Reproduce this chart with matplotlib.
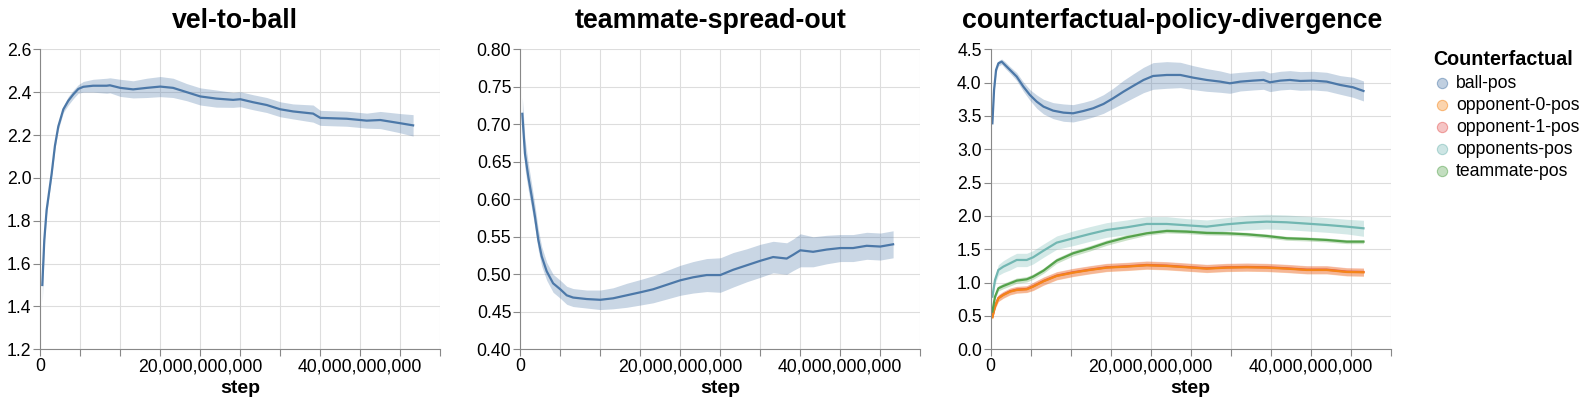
import numpy as np
import matplotlib
matplotlib.use("Agg")
import matplotlib.pyplot as plt
from matplotlib.ticker import FuncFormatter, MultipleLocator
from matplotlib.colors import to_rgba

plt.rcParams['font.family'] = ['Liberation Sans', 'DejaVu Sans']

# ---------------- data (steps in billions) ----------------
VEL_STEP = [0.25, 0.5, 0.79, 1.42, 1.83, 2.25, 2.88, 3.5, 4.13, 4.75, 5.375, 6.6, 8.3, 8.7,
            10.0, 11.6, 13.3, 15.0, 16.6, 18.3, 20.0, 22.0, 24.1, 25.0, 26.6, 28.3, 30.0,
            31.6, 34.1, 35.0, 36.6, 38.3, 40.0, 40.8, 42.5, 45.0, 46.6]
VEL_MEAN = [1.50, 1.71, 1.85, 2.02, 2.15, 2.24, 2.32, 2.36, 2.39, 2.415, 2.425, 2.43, 2.43, 2.432,
            2.42, 2.413, 2.42, 2.426, 2.42, 2.40, 2.38, 2.37, 2.364, 2.367, 2.353, 2.34, 2.32,
            2.31, 2.30, 2.28, 2.278, 2.276, 2.27, 2.267, 2.27, 2.255, 2.245]
VEL_HALF = [0.08, 0.03, 0.02, 0.015, 0.015, 0.015, 0.015, 0.02, 0.02, 0.02, 0.025, 0.03, 0.035, 0.035,
            0.04, 0.04, 0.045, 0.047, 0.045, 0.04, 0.04, 0.04, 0.035, 0.035, 0.035, 0.035, 0.035,
            0.035, 0.04, 0.035, 0.035, 0.035, 0.035, 0.035, 0.04, 0.045, 0.05]

SPREAD_STEP = [0.25, 0.58, 1.0, 1.42, 1.83, 2.25, 2.67, 3.3, 4.1, 5.0, 5.8, 6.6, 8.3, 10.0,
               11.6, 13.3, 15.0, 16.6, 18.3, 20.0, 21.6, 23.3, 25.0, 26.6, 28.3, 30.0, 31.6,
               33.3, 34.1, 35.0, 36.6, 38.3, 40.0, 41.6, 43.3, 45.0, 46.6]
SPREAD_MEAN = [0.714, 0.661, 0.630, 0.604, 0.577, 0.546, 0.524, 0.504, 0.488, 0.480, 0.472, 0.469,
               0.467, 0.466, 0.468, 0.472, 0.476, 0.480, 0.486, 0.492, 0.496, 0.499, 0.499, 0.506,
               0.512, 0.518, 0.523, 0.521, 0.526, 0.532, 0.530, 0.533, 0.535, 0.535, 0.538, 0.537, 0.540]
SPREAD_HALF = [0.022, 0.02, 0.018, 0.016, 0.015, 0.014, 0.013, 0.012, 0.012, 0.012, 0.012, 0.012,
               0.012, 0.013, 0.014, 0.016, 0.017, 0.018, 0.019, 0.02, 0.021, 0.022, 0.023, 0.023,
               0.022, 0.022, 0.021, 0.021, 0.021, 0.022, 0.02, 0.019, 0.018, 0.018, 0.018, 0.018, 0.018]

BALL_STEP = [0.21, 0.42, 0.67, 0.96, 1.375, 1.79, 2.42, 3.25, 4.08, 4.9, 5.75, 6.6, 7.8, 9.1,
             10.3, 11.6, 12.8, 14.1, 15.3, 16.6, 17.8, 19.1, 20.3, 22.0, 23.7, 25.3, 27.0, 28.7,
             29.9, 31.2, 32.8, 34.1, 34.9, 36.2, 37.4, 38.7, 40.3, 42.0, 43.7, 45.3, 46.6]
BALL_MEAN = [3.39, 3.89, 4.19, 4.29, 4.315, 4.265, 4.19, 4.09, 3.94, 3.815, 3.715, 3.64, 3.58, 3.55,
             3.54, 3.575, 3.615, 3.68, 3.765, 3.865, 3.95, 4.04, 4.10, 4.115, 4.115, 4.075, 4.04,
             4.015, 3.99, 4.015, 4.03, 4.04, 4.005, 4.03, 4.04, 4.025, 4.03, 4.015, 3.965, 3.93, 3.875]
BALL_HALF = [0.03, 0.03, 0.04, 0.04, 0.04, 0.05, 0.05, 0.06, 0.07, 0.08, 0.1, 0.11, 0.12, 0.13,
             0.13, 0.13, 0.13, 0.14, 0.15, 0.17, 0.18, 0.19, 0.2, 0.2, 0.19, 0.18, 0.17, 0.16,
             0.15, 0.14, 0.14, 0.14, 0.14, 0.14, 0.14, 0.14, 0.14, 0.14, 0.14, 0.15, 0.15]

LOW_STEP = [0.21, 0.54, 0.96, 1.58, 2.42, 3.25, 4.5, 5.3, 6.6, 8.25, 10.3, 12.4, 14.5, 17.0,
            19.5, 22.0, 24.5, 27.0, 29.5, 32.0, 34.5, 37.0, 39.5, 42.0, 44.5, 46.6]
OPP0_MEAN = [0.48, 0.64, 0.765, 0.815, 0.865, 0.89, 0.90, 0.94, 1.02, 1.10, 1.15, 1.19, 1.225, 1.24,
             1.26, 1.25, 1.23, 1.21, 1.225, 1.23, 1.225, 1.21, 1.19, 1.19, 1.16, 1.155]
OPP1_MEAN = [0.49, 0.65, 0.77, 0.82, 0.87, 0.895, 0.905, 0.945, 1.025, 1.105, 1.155, 1.195, 1.23, 1.245,
             1.265, 1.255, 1.235, 1.215, 1.23, 1.235, 1.23, 1.215, 1.195, 1.195, 1.165, 1.16]
OPPS_MEAN = [0.79, 1.04, 1.19, 1.24, 1.29, 1.34, 1.34, 1.38, 1.48, 1.60, 1.665, 1.73, 1.79, 1.83,
             1.88, 1.88, 1.86, 1.84, 1.875, 1.90, 1.915, 1.905, 1.885, 1.865, 1.84, 1.815]
TEAM_MEAN = [0.565, 0.79, 0.915, 0.95, 0.99, 1.03, 1.05, 1.09, 1.18, 1.33, 1.44, 1.515, 1.60, 1.68,
             1.74, 1.775, 1.765, 1.745, 1.74, 1.725, 1.70, 1.665, 1.655, 1.64, 1.615, 1.615]
OPP0_HALF = [0.03, 0.04, 0.05, 0.05, 0.05, 0.05, 0.05, 0.06, 0.06, 0.06, 0.06, 0.06, 0.06, 0.06,
             0.06, 0.06, 0.06, 0.06, 0.06, 0.06, 0.06, 0.06, 0.06, 0.06, 0.06, 0.06]
OPP1_HALF = OPP0_HALF
OPPS_HALF = [0.04, 0.06, 0.08, 0.09, 0.1, 0.1, 0.1, 0.1, 0.1, 0.1, 0.11, 0.11, 0.11, 0.11,
             0.11, 0.11, 0.1, 0.1, 0.1, 0.11, 0.11, 0.11, 0.11, 0.11, 0.11, 0.12]
TEAM_HALF = [0.03, 0.04, 0.04, 0.04, 0.04, 0.04, 0.04, 0.04, 0.04, 0.04, 0.04, 0.04, 0.04, 0.04,
             0.03, 0.03, 0.03, 0.03, 0.03, 0.03, 0.03, 0.03, 0.03, 0.03, 0.03, 0.03]

CATEGORIES = ['ball-pos', 'opponent-0-pos', 'opponent-1-pos', 'opponents-pos', 'teammate-pos']
COLORS = ['#4c78a8', '#f58518', '#e45756', '#72b7b2', '#54a24b']
TITLES = ['vel-to-ball', 'teammate-spread-out', 'counterfactual-policy-divergence']
X_LABELED = [0, 20, 40]   # billions

# ---------------- figure ----------------
W, H = 1588, 407
fig = plt.figure(figsize=(W / 100, H / 100), dpi=100)

def fx(px):
    return px / W

def fy(py):
    return 1 - py / H

def px_axes(left, top, w, h):
    return fig.add_axes([left / W, (H - top - h) / H, w / W, h / H])

GRID = '#dddddd'
AXC = '#888888'
TICK_FS = 12.7

def style(ax, ylim, ystep, fmt):
    ax.set_xlim(0, 50e9)
    ax.set_ylim(*ylim)
    ax.xaxis.set_major_locator(MultipleLocator(5e9))
    ax.yaxis.set_major_locator(MultipleLocator(ystep))
    ax.xaxis.set_major_formatter(FuncFormatter(
        lambda v, p: f"{int(round(v)):,}" if round(v / 1e9) in X_LABELED else ""))
    ax.yaxis.set_major_formatter(FuncFormatter(lambda v, p: fmt.format(v)))
    ax.grid(True, color=GRID, linewidth=0.8)
    ax.set_axisbelow(True)
    for s in ['top', 'right']:
        ax.spines[s].set_visible(False)
    for s in ['left', 'bottom']:
        ax.spines[s].set_color(AXC)
        ax.spines[s].set_linewidth(0.8)
    ax.tick_params(colors=AXC, labelcolor='black', labelsize=TICK_FS, length=5, width=0.8, pad=1.5)
    ax.tick_params(axis='x', pad=1.5)

def band(ax, steps, mean, half, color):
    x = np.array(steps) * 1e9
    m = np.array(mean)
    h = np.array(half)
    ax.fill_between(x, m - h, m + h, color=color, alpha=0.3, linewidth=0)
    ax.plot(x, m, color=color, linewidth=1.6)

AX_LEFTS = [40.3, 520.3, 990.7]
AX_TOP, AX_W, AX_H = 49.3, 400, 300
ax1 = px_axes(AX_LEFTS[0], AX_TOP, AX_W, AX_H)
ax2 = px_axes(AX_LEFTS[1], AX_TOP, AX_W, AX_H)
ax3 = px_axes(AX_LEFTS[2], AX_TOP, AX_W, AX_H)

band(ax1, VEL_STEP, VEL_MEAN, VEL_HALF, COLORS[0])
style(ax1, (1.2, 2.6), 0.2, "{:.1f}")

band(ax2, SPREAD_STEP, SPREAD_MEAN, SPREAD_HALF, COLORS[0])
style(ax2, (0.4, 0.8), 0.05, "{:.2f}")

series = [(BALL_STEP, BALL_MEAN, BALL_HALF), (LOW_STEP, OPP1_MEAN, OPP1_HALF),
          (LOW_STEP, OPP0_MEAN, OPP0_HALF), (LOW_STEP, OPPS_MEAN, OPPS_HALF),
          (LOW_STEP, TEAM_MEAN, TEAM_HALF)]
order_colors = [COLORS[0], COLORS[2], COLORS[1], COLORS[3], COLORS[4]]
for (s, m, h), c in zip(series, order_colors):
    band(ax3, s, m, h, c)
style(ax3, (0.0, 4.5), 0.5, "{:.1f}")

TITLE_CENTERS = [235, 710.5, 1172.5]
fig.canvas.draw()
for ax, t, tc, left in zip([ax1, ax2, ax3], TITLES, TITLE_CENTERS, AX_LEFTS):
    fig.text(fx(tc), fy(28), t, fontsize=19.3, fontweight='bold', ha='center', va='baseline')
    fig.text(fx(left + AX_W / 2), fy(393), 'step', fontsize=14, fontweight='bold',
             ha='center', va='baseline')
    labels = ax.get_xticklabels()
    if labels:
        labels[0].set_horizontalalignment('left')

# legend (manual, vega style)
fig.text(fx(1433), fy(65), 'Counterfactual', fontsize=14.2, fontweight='bold',
         ha='left', va='baseline')
lax = fig.add_axes([0, 0, 1, 1], facecolor='none')
lax.set_xlim(0, W)
lax.set_ylim(H, 0)
lax.axis('off')
for i, (name, c) in enumerate(zip(CATEGORIES, COLORS)):
    yy = 82.7 + 22 * i
    lax.plot([1441.7], [yy], marker='o', linestyle='none', markersize=7.4,
             markerfacecolor=to_rgba(c, 0.35), markeredgecolor=to_rgba(c, 0.5),
             markeredgewidth=0.8)
    lax.text(1456, yy + 0.5, name, fontsize=12.7, ha='left', va='center')

fig.savefig('out.png', dpi=100)
